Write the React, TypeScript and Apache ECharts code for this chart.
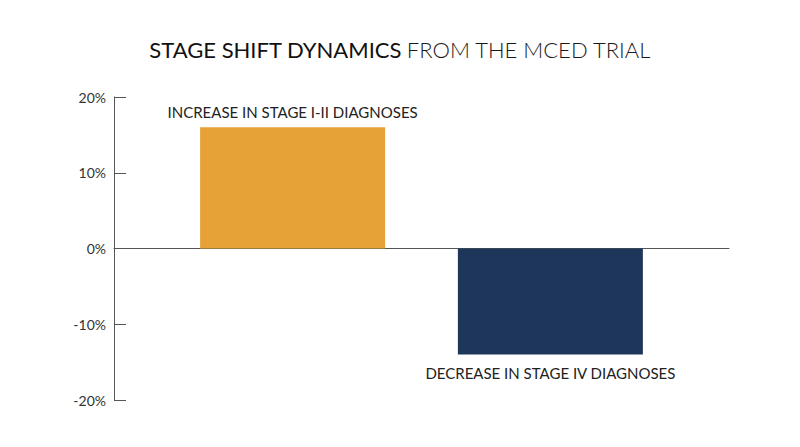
import React, { useEffect, useRef } from "react";
import * as echarts from "echarts";

const categories = ["INCREASE IN STAGE I-II DIAGNOSES", "DECREASE IN STAGE IV DIAGNOSES"];
const values = [16, -14];
const colors = ["#E6A236", "#1D365A"];
const yTicks = { min: -20, max: 20, interval: 10 };

export default function App() {
  const ref = useRef<HTMLDivElement>(null);
  useEffect(() => {
    const chart = echarts.init(ref.current!, null, { renderer: "svg" });
    const font = "Lato, 'Noto Sans', sans-serif";
    chart.setOption({
      animation: false,
      backgroundColor: "#ffffff",
      textStyle: { fontFamily: font },
      title: {
        left: "center",
        top: 25,
        text: "{b|STAGE SHIFT DYNAMICS} {n|FROM THE MCED TRIAL}",
        textStyle: {
          rich: {
            b: { fontSize: 22, fontWeight: 400, color: "#111", fontFamily: font },
            n: { fontSize: 22, fontWeight: 300, color: "#1a1a1a", fontFamily: font },
          },
        },
      },
      grid: { left: 106, right: 63, top: 89, bottom: 39, containLabel: false },
      xAxis: {
        type: "value",
        min: -0.693,
        max: 1.693,
        axisLine: { show: true, onZero: true, lineStyle: { color: "#555", width: 1 } },
        axisTick: { show: false },
        axisLabel: { show: false },
        splitLine: { show: false },
      },
      yAxis: {
        type: "value",
        min: yTicks.min,
        max: yTicks.max,
        interval: yTicks.interval,
        axisLine: { show: true, onZero: false, lineStyle: { color: "#555", width: 1 } },
        axisTick: { show: true, inside: true, length: 12, lineStyle: { color: "#555" } },
        axisLabel: { formatter: "{value}%", color: "#333", fontSize: 14, margin: 8, fontFamily: font },
        splitLine: { show: false },
      },
      series: [
        {
          type: "bar",
          barWidth: 185,
          data: values.map((v, i) => ({
            value: [i, v],
            itemStyle: { color: colors[i] },
            label: {
              show: true,
              position: v >= 0 ? "top" : "bottom",
              distance: v >= 0 ? 8 : 11,
              formatter: categories[i],
              color: "#222",
              fontSize: 15,
              fontFamily: font,
            },
          })),
        },
      ],
    });
    return () => chart.dispose();
  }, []);
  return <div ref={ref} style={{ width: 784, height: 431 }} />;
}
